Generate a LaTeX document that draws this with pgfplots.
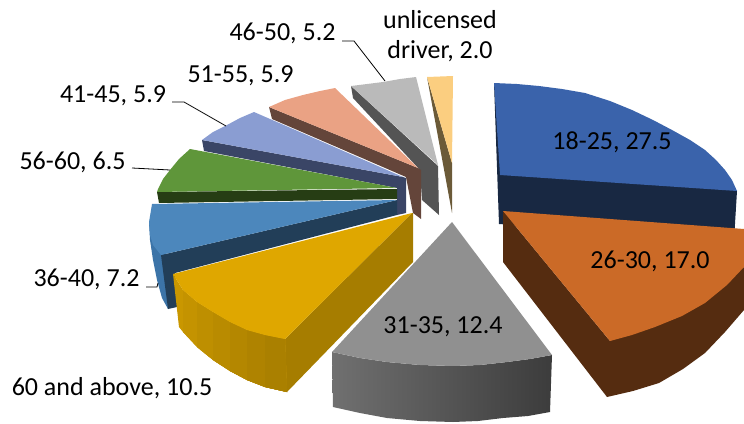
\documentclass[border=0pt]{standalone}
\usepackage{pgfplots}
\pgfplotsset{compat=1.18}
\usepackage{fontspec}
\setmainfont{Carlito}
\definecolor{ablue}{HTML}{3A63AB}
\definecolor{ablued}{HTML}{182842}
\definecolor{aorange}{HTML}{CB6A27}
\definecolor{aoranged}{HTML}{552C10}
\definecolor{agray}{HTML}{909090}
\definecolor{agrayl}{HTML}{707070}
\definecolor{agrayr}{HTML}{3C3C3C}
\definecolor{agold}{HTML}{DFA700}
\definecolor{agoldl}{HTML}{C99700}
\definecolor{agoldr}{HTML}{A67D00}
\definecolor{amid}{HTML}{4C87BC}
\definecolor{amids}{HTML}{3C74A8}
\definecolor{amidd}{HTML}{223E58}
\definecolor{agreen}{HTML}{5F963A}
\definecolor{agreend}{HTML}{263D14}
\definecolor{aperi}{HTML}{8A9DD2}
\definecolor{aperid}{HTML}{3A4566}
\definecolor{asalm}{HTML}{EAA284}
\definecolor{asalmd}{HTML}{64453A}
\definecolor{asilv}{HTML}{BABABA}
\definecolor{asilvd}{HTML}{545454}
\definecolor{ayel}{HTML}{FBCE80}
\definecolor{ayeld}{HTML}{6B5A38}
\newcommand{\lab}{\fontsize{13}{15}\selectfont}
\begin{document}
\begin{tikzpicture}
\begin{axis}[
    scale only axis,
    width=372pt,
    height=211.5pt,
    xmin=0, xmax=744,
    ymin=0, ymax=423,
    y dir=reverse,
    hide axis,
    no markers,
    every axis plot/.append style={draw=none},
]
% keeps the whole canvas in the bounding box
\addplot[fill=none] coordinates {(0,0) (744,0) (744,423) (0,423)};
% pixel coordinates, back slices first
% unlicensed driver
\addplot[fill=ayeld] coordinates {(427,77) (452,163) (452,213)};
\addplot[fill=ayel] coordinates {(427,77) (453,76) (452,163)};
% 46-50
\addplot[fill=asilvd] coordinates {(351,86) (438,166) (439,215) (422,200) (420,170) (353,98)};
\addplot[fill=asilv] coordinates {(351,86) (367,84) (383,82) (400,79) (416,77) (438,165)};
% 51-55
\addplot[fill=asalmd] coordinates {(269,107) (418,168) (421,170) (421,219) (413,213) (406,177) (272,119)};
\addplot[fill=asalm] coordinates {(269,107) (285,100) (303,95) (320,91) (335,88) (418,168)};
% 41-45
\addplot[fill=aperid] coordinates {(202,140) (403,177) (406,178) (406,213) (397,215) (397,188) (204,151)};
\addplot[fill=aperi] coordinates {(202,140) (213,132) (227,125) (240,118) (254,112) (403,177)};
% 56-60
\addplot[fill=agreend] coordinates {(157,192) (397,189) (397,199) (159,203)};
\addplot[fill=agreen] coordinates {(157,192) (158,189) (163,179) (170,170) (179,159) (190,149) (397,188)};
% 36-40
\addplot[fill=amids] coordinates {(149,222) (150,240) (153,260) (157,280) (162,298) (168,309) (175,300) (165,250)};
\addplot[fill=amidd] coordinates {(161,255) (397,200) (397,215) (175,273) (177,307) (168,309)};
\addplot[fill=amid] coordinates {(397,200) (152,204) (149,222) (150,235) (153,245) (161,255)};
% 60 and above: outer wall in vertical bands, each one painted to the right end
\addplot[fill=agoldr] coordinates {(285,339) (412,213) (413,213) (413,262) (287,392)};
\addplot[fill=agoldl] coordinates {(173,274) (183,290) (197,302) (213,312) (230,322) (247,330) (265,335) (285,339) (287,392) (265,387) (247,380) (230,371) (213,360) (197,347) (183,332) (179,327)};
\addplot[fill={agoldl!85!agoldr}] coordinates {(183,290) (197,302) (213,312) (230,322) (247,330) (265,335) (285,339) (287,392) (265,387) (247,380) (230,371) (213,360) (197,347) (183,332)};
\addplot[fill={agoldl!70!agoldr}] coordinates {(197,302) (213,312) (230,322) (247,330) (265,335) (285,339) (287,392) (265,387) (247,380) (230,371) (213,360) (197,347)};
\addplot[fill={agoldl!55!agoldr}] coordinates {(213,312) (230,322) (247,330) (265,335) (285,339) (287,392) (265,387) (247,380) (230,371) (213,360)};
\addplot[fill={agoldl!40!agoldr}] coordinates {(230,322) (247,330) (265,335) (285,339) (287,392) (265,387) (247,380) (230,371)};
\addplot[fill={agoldl!25!agoldr}] coordinates {(247,330) (265,335) (285,339) (287,392) (265,387) (247,380)};
\addplot[fill={agoldl!10!agoldr}] coordinates {(265,335) (285,339) (287,392) (265,387)};
\addplot[fill=agold] coordinates {(412,213) (173,274) (183,290) (197,302) (213,312) (230,322) (247,330) (265,335) (285,339)};
% 31-35
\addplot[left color=agrayl,right color=agrayr] coordinates {(332,352) (360,358) (387,362) (420,365) (453,366) (480,365) (507,362) (530,359) (552,355) (550,412) (528,416) (503,418) (478,421) (453,422) (420,421) (387,418) (360,413) (333,407)};
\addplot[fill=agray] coordinates {(452,222) (332,352) (360,358) (387,362) (420,365) (453,366) (480,365) (507,362) (530,359) (552,355)};
% 18-25
\addplot[fill=ablued] coordinates {(494,83) (737,191) (734,240) (499,224)};
\addplot[fill=ablue] coordinates {(494,83) (517,84) (539,86) (562,89) (585,93) (610,101) (632,110) (653,120) (672,130) (690,140) (705,150) (716,160) (725,170) (732,180) (737,191) (500,175)};
% 26-30
\addplot[fill=aoranged] coordinates {(503,211) (610,341) (744,267) (744,310) (725,332) (705,353) (683,369) (659,383) (633,391) (607,397) (503,262)};
\addplot[fill=aorange] coordinates {(503,211) (744,229) (744,267) (727,285) (705,303) (682,316) (655,327) (632,335) (610,341)};
% leader lines
\addplot[draw=black,line width=0.4pt] coordinates {(342,41) (354,41) (385,81)};
\addplot[draw=black,line width=0.4pt] coordinates {(172,102) (184,102) (226,126)};
\addplot[draw=black,line width=0.4pt] coordinates {(132,168) (170,170)};
\addplot[draw=black,line width=0.4pt] coordinates {(146,287) (157,287) (158,283)};
% labels
\node[align=center,font=\lab] at (axis cs:440,36) {unlicensed\\driver, 2.0};
\node[font=\lab] at (axis cs:282.5,33) {46-50, 5.2};
\node[font=\lab] at (axis cs:240.5,76) {51-55, 5.9};
\node[font=\lab] at (axis cs:113,96) {41-45, 5.9};
\node[font=\lab] at (axis cs:72.5,162) {56-60, 6.5};
\node[font=\lab] at (axis cs:86.5,279) {36-40, 7.2};
\node[font=\lab] at (axis cs:112,388) {60 and above, 10.5};
\node[font=\lab] at (axis cs:612,142) {18-25, 27.5};
\node[font=\lab] at (axis cs:650,261) {26-30, 17.0};
\node[font=\lab] at (axis cs:443,327) {31-35, 12.4};
\end{axis}
\end{tikzpicture}
\end{document}
